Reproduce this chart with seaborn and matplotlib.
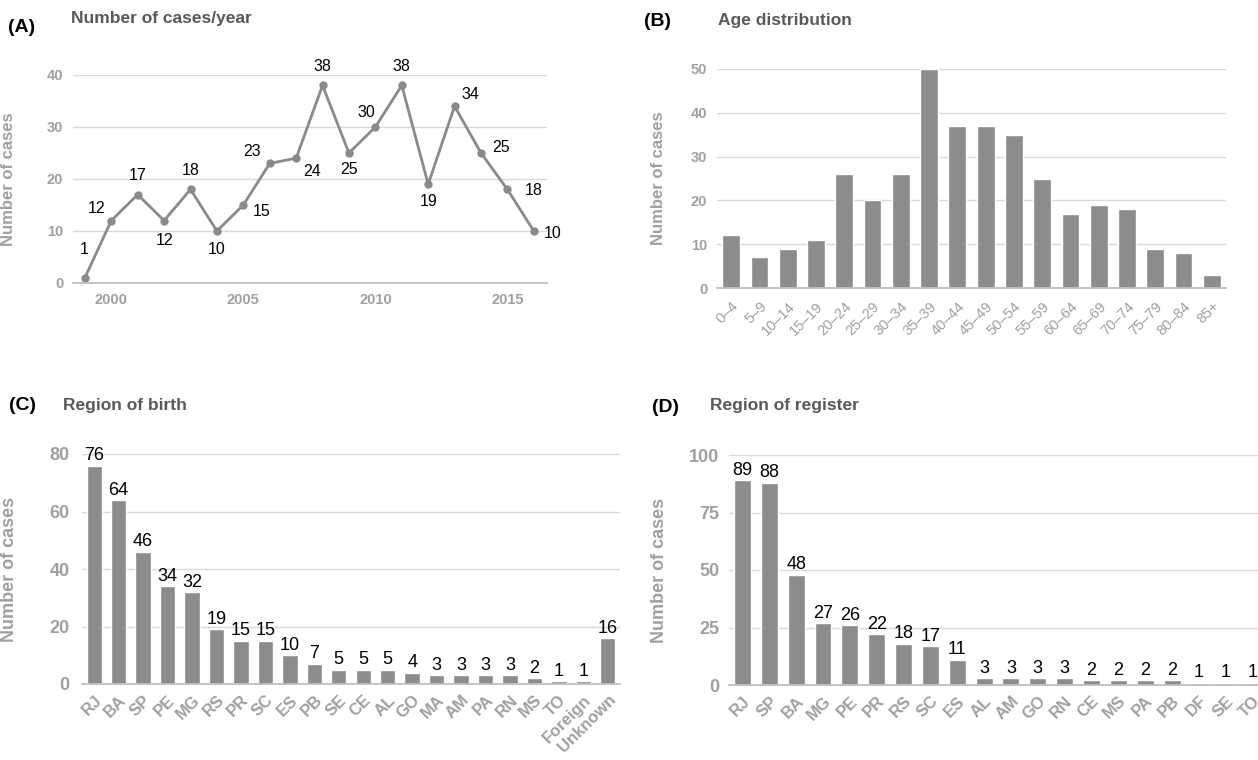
import matplotlib
matplotlib.use('Agg')
import matplotlib.pyplot as plt
import seaborn as sns
from matplotlib import font_manager

# data
years = list(range(1999, 2017))
cases_per_year = [1, 12, 17, 12, 18, 10, 15, 23, 24, 38, 25, 30, 38, 19, 34, 25, 18, 10]

age_groups = ['0–4', '5–9', '10–14', '15–19', '20–24', '25–29', '30–34', '35–39', '40–44',
              '45–49', '50–54', '55–59', '60–64', '65–69', '70–74', '75–79', '80–84', '85+']
age_cases = [12, 7, 9, 11, 26, 20, 26, 50, 37, 37, 35, 25, 17, 19, 18, 9, 8, 3]

birth_regions = ['RJ', 'BA', 'SP', 'PE', 'MG', 'RS', 'PR', 'SC', 'ES', 'PB', 'SE', 'CE', 'AL',
                 'GO', 'MA', 'AM', 'PA', 'RN', 'MS', 'TO', 'Foreign', 'Unknown']
birth_cases = [76, 64, 46, 34, 32, 19, 15, 15, 10, 7, 5, 5, 5, 4, 3, 3, 3, 3, 2, 1, 1, 16]

register_regions = ['RJ', 'SP', 'BA', 'MG', 'PE', 'PR', 'RS', 'SC', 'ES', 'AL', 'AM', 'GO',
                    'RN', 'CE', 'MS', 'PA', 'PB', 'DF', 'SE', 'TO']
register_cases = [89, 88, 48, 27, 26, 22, 18, 17, 11, 3, 3, 3, 3, 2, 2, 2, 2, 1, 1, 1]

# where each value label of panel A sits relative to its point (pixels)
label_offsets = [(-1, 28), (-15, 12), (0, 19), (0, -20), (0, 19), (0, -19), (18, -6),
                 (-18, 12), (16, -13), (0, 19), (0, -17), (-9, 14), (0, 19), (0, -17),
                 (16, 12), (20, 6), (26, -1), (19, -2)]

sns.set_style('white')
installed = {f.name for f in font_manager.fontManager.ttflist}
narrow = 'Liberation Sans Narrow' if 'Liberation Sans Narrow' in installed else 'Liberation Sans'
plt.rcParams['font.family'] = ['Liberation Sans', 'DejaVu Sans']

BAR = '#8c8c8c'
TICK = '#a0a0a0'
GRID = '#d9d9d9'
TITLE = '#595959'
W, H = 1258, 760

fig = plt.figure(figsize=(W / 100, H / 100), dpi=100)


def add_axes(left, right, top, bottom):
    return fig.add_axes([left / W, 1 - bottom / H, (right - left) / W, (bottom - top) / H])


def style_axes(ax, yticks, tick_font, tick_size, ypad, ylab_x, ylab_size):
    ax.set_ylim(yticks[0], yticks[-1])
    ax.set_yticks(yticks)
    ax.grid(axis='y', color=GRID, linewidth=1)
    ax.set_axisbelow(True)
    for s in ['top', 'right', 'left']:
        ax.spines[s].set_visible(False)
    ax.spines['bottom'].set_color('#bfbfbf')
    ax.spines['bottom'].set_linewidth(1.3)
    ax.tick_params(length=0, colors=TICK)
    ax.tick_params(axis='y', pad=ypad)
    for lab in ax.get_yticklabels():
        lab.set_fontfamily(tick_font)
        lab.set_fontsize(tick_size)
        lab.set_fontweight('bold')
    ax.set_xlabel('')
    ax.set_ylabel('Number of cases', color=TICK, fontsize=ylab_size, fontweight='bold')
    ax.yaxis.set_label_coords(ylab_x, 0.5)


def rotate_xlabels(ax, size, weight, pad):
    ax.tick_params(axis='x', pad=pad)
    for lab in ax.get_xticklabels():
        lab.set_rotation(45)
        lab.set_ha('right')
        lab.set_rotation_mode('anchor')
        lab.set_fontsize(size)
        lab.set_fontweight(weight)


def headline(letter, lx, ly, title, tx, ty):
    fig.text(lx / W, 1 - ly / H, letter, fontsize=14, fontweight='bold', color='black',
             va='center', ha='left')
    fig.text(tx / W, 1 - ty / H, title, fontsize=12.5, fontweight='bold', color=TITLE,
             va='center', ha='left', family=narrow)


# (A) cases per year
ax = add_axes(73, 547, 75, 283)
sns.lineplot(x=years, y=cases_per_year, ax=ax, color='#8a8a8a', linewidth=2,
             marker='o', markersize=6, markeredgewidth=0)
ax.set_xlim(1998.55, 2016.5)
ax.set_xticks([2000, 2005, 2010, 2015])
style_axes(ax, [0, 10, 20, 30, 40], 'Liberation Sans', 10.5, 7, -0.12, 12)
ax.tick_params(axis='x', pad=7)
for lab in ax.get_xticklabels():
    lab.set_fontsize(10.5)
    lab.set_fontweight('bold')
for yr, val, off in zip(years, cases_per_year, label_offsets):
    ax.annotate(str(val), (yr, val), xytext=off, textcoords='offset pixels',
                ha='center', va='center', fontsize=11.5, family=narrow, color='black')
headline('(A)', 8, 27, 'Number of cases/year', 71, 18)

# (B) age distribution
ax = add_axes(717, 1226, 69, 288)
sns.barplot(x=age_groups, y=age_cases, ax=ax, color=BAR, saturation=1, width=0.63)
ax.set_xlim(-0.5, len(age_groups) - 0.5)
style_axes(ax, [0, 10, 20, 30, 40, 50], 'Liberation Sans', 10.5, 7, -0.10, 12)
rotate_xlabels(ax, 10.5, 'normal', 8)
headline('(B)', 644, 22, 'Age distribution', 718, 20)

# (C) region of birth
ax = add_axes(82, 620, 454, 684)
sns.barplot(x=birth_regions, y=birth_cases, ax=ax, color=BAR, saturation=1, width=0.63)
ax.set_xlim(-0.5, len(birth_regions) - 0.5)
style_axes(ax, [0, 20, 40, 60, 80], narrow, 13, 9, -0.119, 13)
ax.bar_label(ax.containers[0], padding=1, fontsize=13, family=narrow, color='black')
rotate_xlabels(ax, 12, 'bold', 6)
headline('(C)', 9, 405, 'Region of birth', 63, 405)

# (D) region of register, cut at the right border like the original
ax = add_axes(729, 1258, 455, 685)
sns.barplot(x=register_regions, y=register_cases, ax=ax, color=BAR, saturation=1, width=0.63)
ax.set_xlim(-0.5, 19.2)
style_axes(ax, [0, 25, 50, 75, 100], narrow, 13, 7, -0.115, 13)
ax.bar_label(ax.containers[0], padding=1, fontsize=13, family=narrow, color='black')
rotate_xlabels(ax, 12, 'bold', 6)
headline('(D)', 652, 408, 'Region of register', 710, 405)

fig.savefig('out.png', dpi=100)
